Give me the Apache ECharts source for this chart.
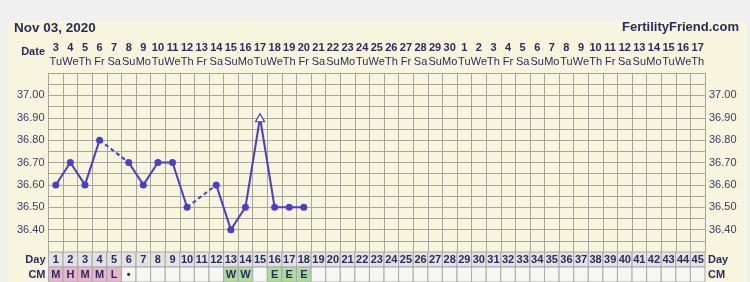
<!DOCTYPE html>
<html>
<head>
<meta charset="utf-8">
<script src="https://cdn.jsdelivr.net/npm/echarts@6/dist/echarts.min.js"></script>
<style>
html,body{margin:0;padding:0;background:#f0f0f0;}
#chart{width:750px;height:282px;}
</style>
</head>
<body>
<div id="chart"></div>
<script>
// ---- data ----
const chartTitle = 'Nov 03, 2020';
const siteName = 'FertilityFriend.com';
const cycleDays = ['1','2','3','4','5','6','7','8','9','10','11','12','13','14','15','16','17','18','19','20','21','22','23','24','25','26','27','28','29','30','31','32','33','34','35','36','37','38','39','40','41','42','43','44','45'];
const dates = ['3','4','5','6','7','8','9','10','11','12','13','14','15','16','17','18','19','20','21','22','23','24','25','26','27','28','29','30','1','2','3','4','5','6','7','8','9','10','11','12','13','14','15','16','17'];
const weekdays = ['Tu','We','Th','Fr','Sa','Su','Mo','Tu','We','Th','Fr','Sa','Su','Mo','Tu','We','Th','Fr','Sa','Su','Mo','Tu','We','Th','Fr','Sa','Su','Mo','Tu','We','Th','Fr','Sa','Su','Mo','Tu','We','Th','Fr','Sa','Su','Mo','Tu','We','Th'];
const temps = [36.60,36.70,36.60,36.80,null,36.70,36.60,36.70,36.70,36.50,null,36.60,36.40,36.50,36.90,36.50,36.50,36.50,
  null,null,null,null,null,null,null,null,null,null,null,null,null,null,null,null,null,null,null,null,null,null,null,null,null,null,null];
const openTriangleDays = [15];
const cmCodes = ['M','H','M','M','L','•','','','','','','','W','W','','E','E','E','','','','','','','','','','','','','','','','','','','','','','','','','','',''];
const tempTicks = ['36.40','36.50','36.60','36.70','36.80','36.90','37.00'];

// ---- styling ----
const FONT = 'Liberation Sans, Arial, sans-serif';
const NAVY = '#2c2b5e';
const LINE = '#4a3fc8';
const GRIDC = '#a8a69b';
const CREAM = '#f7f5dd';
const cmColors = {M:'#e8b6ca',H:'#e8b6ca',L:'#e8b6ca',W:'#aedb9e',E:'#aedb9e'};

const L = 48.5, W = 656.5;

// solid segments use raw data; dashed segments bridge gaps
const dashedSeries = [];
for (let i = 1; i < temps.length - 1; i++) {
  if (temps[i] == null && temps[i-1] != null) {
    let j = i; while (j < temps.length && temps[j] == null) j++;
    if (j < temps.length) {
      const d = temps.map((v, k) => (k === i-1 || k === j) ? v : null);
      dashedSeries.push({
        type:'line', xAxisIndex:0, yAxisIndex:0, data:d, connectNulls:true,
        symbol:'none', lineStyle:{color:LINE, width:2, type:[4,3]}, z:3, silent:true
      });
    }
  }
}

const lineData = temps.map((v, i) => {
  if (v == null) return null;
  if (openTriangleDays.indexOf(i+1) >= 0) {
    return {value:v, symbol:'triangle', symbolSize:[9,8], itemStyle:{color:'#ffffff', borderColor:LINE, borderWidth:1.2}};
  }
  return v;
});

const cellData = [];
cycleDays.forEach((d, i) => { cellData.push([i, 1, d]); cellData.push([i, 0, cmCodes[i]]); });

const chart = echarts.init(document.getElementById('chart'));
chart.setOption({
  backgroundColor:'#f0f0f0',
  animation:false,
  graphic:[
    {type:'rect', z:-10, shape:{x:8, y:21, width:738, height:270}, style:{fill:CREAM}},
    {type:'text', z:5, x:45, y:52, style:{text:'Date', align:'right', verticalAlign:'middle', textAlign:'right', textVerticalAlign:'middle', font:'bold 11px ' + FONT, fill:NAVY}}
  ],
  title:[
    {text:chartTitle, left:14, top:21, padding:0, textStyle:{fontFamily:FONT, fontWeight:'bold', fontSize:13.5, color:NAVY}},
    {text:siteName, right:11, top:21, padding:0, textStyle:{fontFamily:FONT, fontWeight:'bold', fontSize:13, color:NAVY}}
  ],
  grid:[
    {left:L, width:W, top:73, height:179, show:false},
    {left:L, width:W, top:252, height:31}
  ],
  xAxis:[
    {type:'category', gridIndex:0, position:'top', data:cycleDays, boundaryGap:true,
     axisLine:{show:false}, axisTick:{show:false},
     splitLine:{show:true, interval:0, lineStyle:{color:GRIDC, width:1}},
     axisLabel:{interval:0, margin:4, formatter:(v, i) => '{d|' + dates[i] + '}\n{w|' + weekdays[i] + '}',
       rich:{d:{fontFamily:FONT, fontWeight:'bold', fontSize:11, color:NAVY, lineHeight:14},
             w:{fontFamily:FONT, fontSize:11, color:NAVY, lineHeight:14}}}},
    {type:'category', gridIndex:1, data:cycleDays, boundaryGap:true,
     axisLine:{show:false}, axisTick:{show:false}, axisLabel:{show:false}, splitLine:{show:false}}
  ],
  yAxis:[
    {type:'value', gridIndex:0, min:36.3, max:37.1, interval:0.05, position:'left',
     axisLine:{show:false}, axisTick:{show:false},
     splitLine:{show:true, lineStyle:{color:GRIDC, width:1}},
     axisLabel:{margin:4, fontFamily:FONT, fontSize:11, color:'#3a3a6c',
       formatter:v => { const s = v.toFixed(2); return tempTicks.indexOf(s) >= 0 ? s : ''; }}},
    {type:'value', gridIndex:0, min:36.3, max:37.1, interval:0.05, position:'right',
     axisLine:{show:false}, axisTick:{show:false}, splitLine:{show:false},
     axisLabel:{margin:4, fontFamily:FONT, fontSize:11, color:'#3a3a6c',
       formatter:v => { const s = v.toFixed(2); return tempTicks.indexOf(s) >= 0 ? s : ''; }}},
    {type:'category', gridIndex:1, data:['CM','Day'], position:'left',
     axisLine:{show:false}, axisTick:{show:false},
     axisLabel:{margin:3, fontFamily:FONT, fontWeight:'bold', fontSize:11, color:NAVY}},
    {type:'category', gridIndex:1, data:['CM','Day'], position:'right',
     axisLine:{show:false}, axisTick:{show:false},
     axisLabel:{margin:3, fontFamily:FONT, fontWeight:'bold', fontSize:11, color:NAVY}}
  ],
  series:[
    {type:'line', xAxisIndex:0, yAxisIndex:0, data:lineData, connectNulls:false,
     symbol:'circle', symbolSize:7, itemStyle:{color:LINE}, lineStyle:{color:LINE, width:2}, z:4},
    ...dashedSeries,
    {type:'custom', xAxisIndex:1, yAxisIndex:2, data:cellData, encode:{x:0, y:1},
     renderItem:(params, api) => {
       const i = api.value(0), r = api.value(1);
       const item = cellData[params.dataIndex];
       const c = api.coord([i, r]);
       const s = api.size([1, 1]);
       const txt = item[2];
       let fill = r === 1 ? '#e3e3e3' : (cmColors[txt] || '#f6f6f3');
       return {type:'group', children:[
         {type:'rect', shape:{x:c[0]-s[0]/2, y:c[1]-s[1]/2, width:s[0], height:s[1]},
          style:{fill:fill, stroke:'#aaaaaa', lineWidth:1}},
         {type:'text', x:c[0], y:c[1]+0.5,
          style:{text:txt, align:'center', verticalAlign:'middle', textAlign:'center', textVerticalAlign:'middle',
                 font:'bold 11px ' + FONT, fill:NAVY}}
       ]};
     }}
  ]
});
</script>
</body>
</html>
